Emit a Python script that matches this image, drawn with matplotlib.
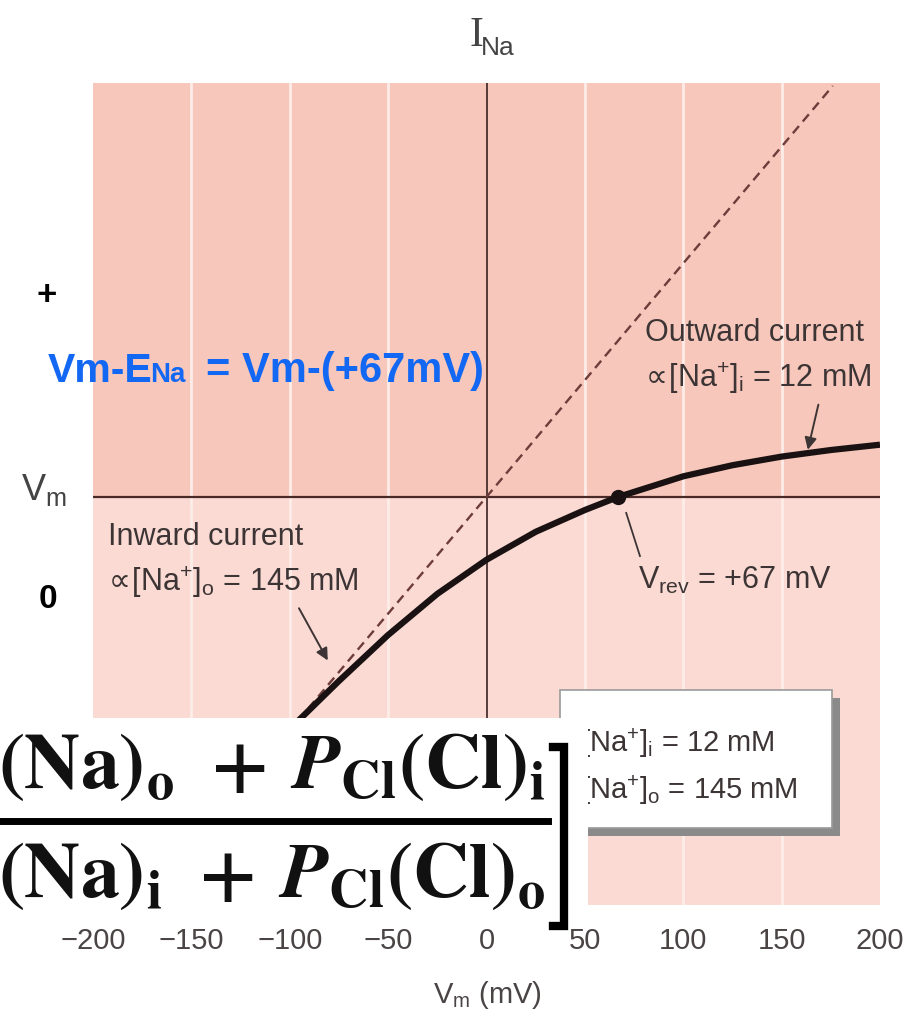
import matplotlib
matplotlib.use("Agg")
import matplotlib.pyplot as plt
from matplotlib.patches import Rectangle
from matplotlib.lines import Line2D

# I-V relation for Na+ (current in arbitrary units)
v_mv = [-200, -175, -150, -125, -100, -75, -50, -25, 0, 25, 50, 67, 100, 125, 150, 175, 200]
i_na = [-1.05, -0.93, -0.805, -0.685, -0.565, -0.448, -0.336, -0.236, -0.153, -0.085, -0.032,
        0.0, 0.05, 0.077, 0.098, 0.114, 0.127]

# linear (ohmic) reference line, dashed
lin_v = [-176, 176]
lin_i = [-1.0, 1.0]

v_rev = 67
x_ticks = [-200, -150, -100, -50, 0, 50, 100, 150, 200]
x_ticklabels = ["\u2212200", "\u2212150", "\u2212100", "\u221250", "0", "50", "100", "150", "200"]
grid_v = [-150, -100, -50, 50, 100, 150]

sans = ["Liberation Sans", "DejaVu Sans"]
plt.rcParams["font.family"] = sans

upper_pink = "#F7C7BB"
lower_pink = "#FADAD2"
ink = "#3d3535"

W, H = 905, 1024


def fpx(x, y):
    # image pixel (top-left origin) -> figure fraction
    return x / W, 1 - y / H


fig = plt.figure(figsize=(9.05, 10.24), dpi=100)
ax = fig.add_axes([93 / W, 1 - 905 / H, (880 - 93) / W, (905 - 83) / H])
ax.set_xlim(-200, 200)
ax.set_ylim(-0.993, 1.007)

ax.axhspan(0, 1.007, color=upper_pink, lw=0, zorder=0)
ax.axhspan(-0.993, 0, color=lower_pink, lw=0, zorder=0)
for g in grid_v:
    ax.axvline(g, color="#FDEDE8", lw=2, zorder=1)
ax.axvline(0, color="#3a2222", lw=1.2, zorder=2)
ax.axhline(0, color="#4a2a26", lw=1.6, zorder=2)

ax.plot(lin_v, lin_i, ls=(0, (4, 2.5)), color="#6e3c3a", lw=1.7, zorder=3)
ax.plot(v_mv, i_na, color="#1a1212", lw=4.5, solid_capstyle="butt", zorder=4)
ax.plot([v_rev], [0], "o", color="#1a1212", ms=10, zorder=5)

for s in ax.spines.values():
    s.set_visible(False)
ax.set_yticks([])
ax.set_xticks(x_ticks)
ax.set_xticklabels(x_ticklabels, fontsize=21, color="#4a4444")
ax.tick_params(axis="x", length=0, pad=16)

# annotations inside the plot
fs = 22
prop = r"$\!\propto\!$"
ax.text(*fpx(645, 333), "Outward current", transform=fig.transFigure, fontsize=fs,
        color=ink, va="center", ha="left")
ax.text(*fpx(645, 378), prop + r"[Na$^{\mathregular{+}}$]$_{\mathregular{i}}$ = 12 mM",
        transform=fig.transFigure, fontsize=fs, color=ink, va="center", ha="left")
ax.annotate("", xy=(163, 0.108), xytext=(169, 0.231),
            arrowprops=dict(arrowstyle="-|>", color=ink, lw=1.4, mutation_scale=18))

ax.text(*fpx(108, 537), "Inward current", transform=fig.transFigure, fontsize=fs,
        color=ink, va="center", ha="left")
ax.text(*fpx(108, 582), prop + r"[Na$^{\mathregular{+}}$]$_{\mathregular{o}}$ = 145 mM",
        transform=fig.transFigure, fontsize=fs, color=ink, va="center", ha="left")
ax.annotate("", xy=(-80, -0.404), xytext=(-96, -0.265),
            arrowprops=dict(arrowstyle="-|>", color=ink, lw=1.4, mutation_scale=18))

ax.plot([71, 78], [-0.039, -0.144], color=ink, lw=1.3, zorder=5)
ax.text(*fpx(638, 580), r"V$_{\mathregular{rev}}$ = +67 mV", transform=fig.transFigure,
        fontsize=fs, color=ink, va="center", ha="left")

# concentration box with shadow
fig.add_artist(Rectangle(fpx(568, 836), 272 / W, 138 / H, transform=fig.transFigure,
                         facecolor="#8a8a8a", edgecolor="none", zorder=4))
fig.add_artist(Rectangle(fpx(560, 828), 272 / W, 138 / H, transform=fig.transFigure,
                         facecolor="white", edgecolor="#9a9a9a", lw=1.2, zorder=5))
fig.text(*fpx(581, 743), r"[Na$^{\mathregular{+}}$]$_{\mathregular{i}}$ = 12 mM", fontsize=21,
         color=ink, va="center", ha="left", zorder=6)
fig.text(*fpx(581, 790), r"[Na$^{\mathregular{+}}$]$_{\mathregular{o}}$ = 145 mM", fontsize=21,
         color=ink, va="center", ha="left", zorder=6)

# axis titles
fig.text(*fpx(476, 36), "I", family="Liberation Serif", fontsize=30, color="#444",
         ha="center", va="center")
fig.text(*fpx(481, 48), "Na", fontsize=19, color="#444", ha="left", va="center")
fig.text(*fpx(487, 995), r"V$_{\mathregular{m}}$ (mV)", fontsize=21, color="#4a4444",
         ha="center", va="center")

# overlaid labels on the left
fig.text(*fpx(47, 295), "+", weight="bold", fontsize=25,
         color="black", ha="center", va="center")
blue = "#1268F2"
fig.text(*fpx(48, 382), "Vm-E", weight="bold", fontsize=29.5,
         color=blue, ha="left", va="baseline")
fig.text(*fpx(150, 382), "Na", weight="bold", fontsize=20,
         color=blue, ha="left", va="baseline")
fig.text(*fpx(206, 382), "= Vm-(+67mV)", weight="bold", fontsize=30,
         color=blue, ha="left", va="baseline")
fig.text(*fpx(44, 490), r"V$_{\mathregular{m}}$", fontsize=26, color="#444",
         ha="center", va="center")
fig.text(*fpx(48, 600), "0", weight="bold", fontsize=24,
         color="black", ha="center", va="center")

# pasted formula block: numerator and denominator, each in three pieces
fig.add_artist(Rectangle(fpx(0, 928), 588 / W, 210 / H, transform=fig.transFigure,
                         facecolor="white", edgecolor="none", zorder=10))
formula = dict(math_fontfamily="stix", fontsize=56, color="#111", va="baseline", zorder=11)
fig.text(*fpx(-2, 788), r"$\mathbf{(Na)_o}$", ha="left", **formula)
fig.text(*fpx(238, 788), r"$\mathbf{+}$", ha="center", **formula)
fig.text(*fpx(290, 788), r"$\mathbfit{P}_{\mathbf{Cl}}\mathbf{(Cl)_i}$", ha="left", **formula)
fig.text(*fpx(-2, 897), r"$\mathbf{(Na)_i}$", ha="left", **formula)
fig.text(*fpx(226, 897), r"$\mathbf{+}$", ha="center", **formula)
fig.text(*fpx(278, 897), r"$\mathbfit{P}_{\mathbf{Cl}}\mathbf{(Cl)_o}$", ha="left", **formula)
fig.add_artist(Line2D([0, 548 / W], [1 - 821 / H] * 2, transform=fig.transFigure,
                      color="black", lw=5, zorder=11))
bx = [553 / W, 564 / W, 564 / W, 553 / W]
by = [1 - 747 / H, 1 - 747 / H, 1 - 926 / H, 1 - 926 / H]
fig.add_artist(Line2D(bx, by, transform=fig.transFigure, color="black", lw=6,
                      solid_joinstyle="miter", zorder=11))

fig.savefig("out.png", dpi=100)
